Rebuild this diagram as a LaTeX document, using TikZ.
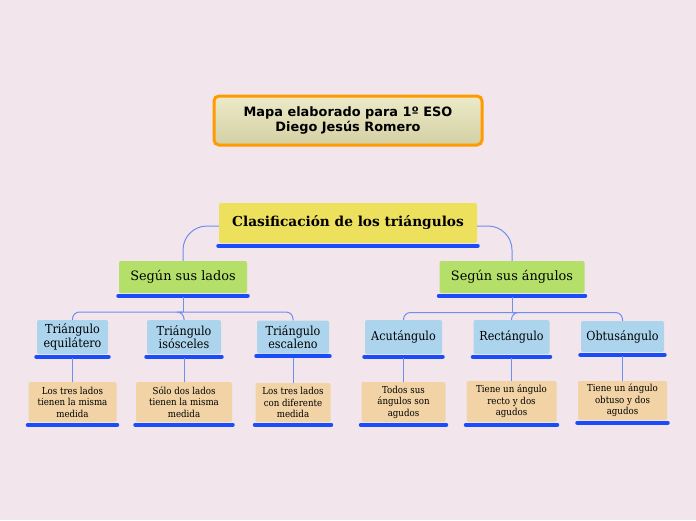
\documentclass[tikz,border=0pt]{standalone}
\usepackage{fontspec}
\setmainfont{DejaVu Serif}
\newfontfamily\titfont{DejaVu Sans}
\newfontfamily\condfont{DejaVu Serif Condensed}
\usetikzlibrary{positioning}

\newlength\px
\setlength\px{0.03cm}

\definecolor{fondo}{RGB}{242,230,236}
\definecolor{naranja}{RGB}{255,154,0}
\definecolor{amarillo}{RGB}{237,224,93}
\definecolor{verde}{RGB}{180,224,106}
\definecolor{celeste}{RGB}{172,213,237}
\definecolor{arena}{RGB}{241,211,166}
\definecolor{azul}{RGB}{26,76,250}
\definecolor{enlace}{RGB}{112,142,240}

\tikzset{
  caja/.style={rectangle, rounded corners=2\px, align=center, inner sep=0pt},
  titulo/.style={caja, rounded corners=5\px, draw=naranja, line width=3\px,
    top color={rgb,255:red,236;green,234;blue,200},
    bottom color={rgb,255:red,212;green,208;blue,164},
    font=\titfont\bfseries\fontsize{11}{13.5}\selectfont},
  raiz/.style={caja, fill=amarillo, font=\bfseries\fontsize{11.7}{13}\selectfont},
  rama/.style={caja, fill=verde, font=\fontsize{11}{13}\selectfont},
  tipo/.style={caja, fill=celeste, font=\condfont\fontsize{10.6}{11.5}\selectfont},
  hoja/.style={caja, fill=arena, font=\condfont\fontsize{8.2}{9.8}\selectfont},
  subraya/.style={draw=azul, line width=4\px, line cap=round},
  enlace/.style={draw=enlace, line width=1\px}
}

% subrayado azul bajo una caja
\newcommand{\subrayar}[1]{%
  \draw[subraya]
  ([xshift=-0.5\px,yshift=-2.5\px]#1.south west)
  --
  ([xshift=0.5\px,yshift=-2.5\px]#1.south east);}

\begin{document}
\begin{tikzpicture}[x=1\px, y=-1\px]

% fondo
\fill[fondo]
(0,0)
rectangle
(696,520);

% autor
\node[titulo, minimum width=268\px, minimum height=49\px] (autor) at (348,120.5)
{Mapa elaborado para 1º ESO\\Diego Jesús Romero};

% tema central
\node[raiz, minimum width=258\px, minimum height=40\px] (raiz) at (348,223)
{Clasificación de los triángulos};

% ramas
\node[rama, minimum width=128\px, minimum height=32\px] (lados) at (183,277)
{Según sus lados};

\node[rama, minimum width=145\px, minimum height=32\px] (angulos) at (512,277)
{Según sus ángulos};

% tipos por lados
\node[tipo, minimum width=71\px, minimum height=34\px] (equi) at (72.5,337)
{Triángulo\\equilátero};

\node[tipo, minimum width=74\px, minimum height=34\px] (isos) at (184,337)
{Triángulo\\isósceles};

\node[tipo, minimum width=72\px, minimum height=33\px] (esca) at (293,337)
{Triángulo\\escaleno};

% tipos por angulos
\node[tipo, minimum width=77\px, minimum height=34\px] (acut) at (403.5,337)
{Acutángulo};

\node[tipo, minimum width=76\px, minimum height=34\px] (rect) at (511.5,337)
{Rectángulo};

\node[tipo, minimum width=83\px, minimum height=31\px] (obtu) at (622.5,336.5)
{Obtusángulo};

% definiciones
\node[hoja, minimum width=88\px, minimum height=40\px] (hequi) at (72.5,402)
{Los tres lados\\tienen la misma\\medida};

\node[hoja, minimum width=96\px, minimum height=40\px] (hisos) at (184,402)
{Sólo dos lados\\tienen la misma\\medida};

\node[hoja, minimum width=75\px, minimum height=39\px] (hesca) at (293,402.5)
{Los tres lados\\con diferente\\medida};

\node[hoja, minimum width=84\px, minimum height=40\px] (hacut) at (403.5,402)
{Todos sus\\ángulos son\\agudos};

\node[hoja, minimum width=90\px, minimum height=41\px] (hrect) at (511.5,401.5)
{Tiene un ángulo\\recto y dos\\agudos};

\node[hoja, minimum width=89\px, minimum height=39\px] (hobtu) at (622.5,400.5)
{Tiene un ángulo\\obtuso y dos\\agudos};

% subrayados
\foreach \n in {raiz,lados,angulos,equi,isos,esca,acut,rect,obtu,hequi,hisos,hesca,hacut,hrect,hobtu}
  \subrayar{\n};

% enlaces
\draw[enlace, rounded corners=24\px]
([yshift=-3\px]raiz.west)
-|
(lados.north);

\draw[enlace, rounded corners=24\px]
([yshift=-3\px]raiz.east)
-|
(angulos.north);

\coordinate (cruceL) at (183,312);
\coordinate (cruceR) at (512,312.5);

\draw[enlace]
([yshift=-4\px]lados.south)
--
(cruceL);

\draw[enlace]
([yshift=-4\px]angulos.south)
--
(cruceR);

\foreach \n in {equi,isos,esca}
  \draw[enlace, rounded corners=7\px] (cruceL) -| (\n.north);

\foreach \n in {acut,rect,obtu}
  \draw[enlace, rounded corners=7\px] (cruceR) -| (\n.north);

\foreach \a/\b in {equi/hequi,isos/hisos,esca/hesca,acut/hacut,rect/hrect,obtu/hobtu}
  \draw[enlace] ([yshift=-4\px]\a.south) -- (\b.north);

\end{tikzpicture}
\end{document}
